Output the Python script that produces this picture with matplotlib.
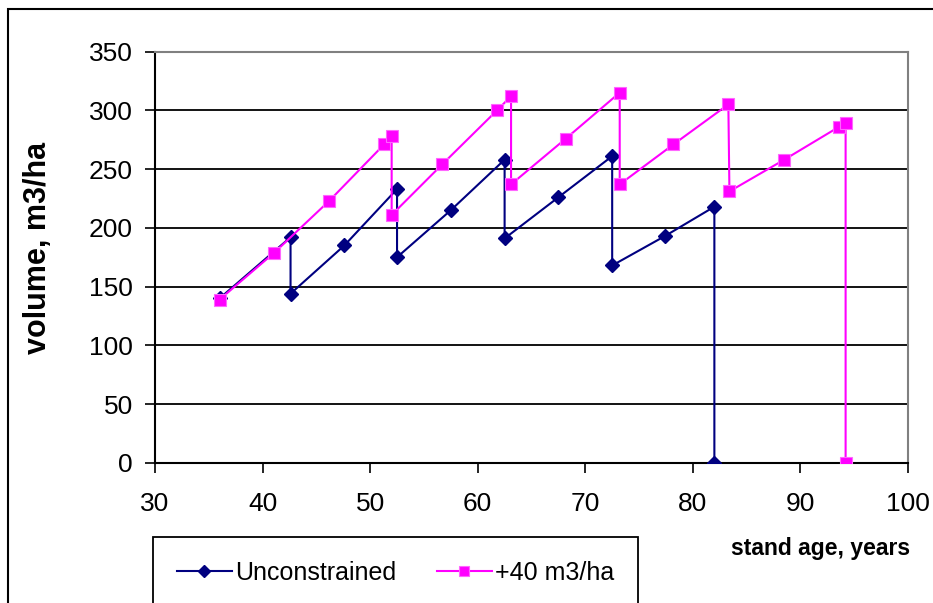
import numpy as np
import matplotlib
matplotlib.use("Agg")
import matplotlib.pyplot as plt
from matplotlib.patches import Rectangle

plt.rcParams['font.family'] = ['Liberation Sans', 'DejaVu Sans']

# stand volume over age, thinning drops shown as vertical steps
age_unc = [36, 42.6, 42.6, 47.6, 52.5, 52.5, 57.5, 62.5, 62.5, 67.5, 72.5, 72.5, 77.4, 82, 82]
vol_unc = [140, 192, 144, 185, 233, 175, 215, 258, 191, 226, 261, 168, 193, 218, 0]

age_40 = [36, 41.1, 46.2, 51.3, 52.0, 52.0, 56.7, 61.8, 63.1, 63.1, 68.2, 73.2, 73.2, 78.2,
          83.3, 83.4, 88.5, 93.6, 94.2, 94.2]
vol_40 = [139, 179, 223, 271, 278, 211, 254, 300, 312, 237, 276, 315, 237, 271,
          305, 231, 258, 286, 289, 0]

xticks = [30, 40, 50, 60, 70, 80, 90, 100]
yticks = [0, 50, 100, 150, 200, 250, 300, 350]

fig = plt.figure(figsize=(9.33, 6.03), dpi=100)
ax = fig.add_axes([155/933, 1 - 463/603, (908 - 155)/933, (463 - 51.5)/603])

l1, = ax.plot(age_unc, vol_unc, color='#000080', lw=1.5, marker='D', ms=7,
              mfc='#000080', mec='#000080', label='Unconstrained', zorder=3)
l2, = ax.plot(age_40, vol_40, color='#FF00FF', lw=1.5, marker='s', ms=8,
              mfc='#FF00FF', mec='#FF66FF', mew=0.8, label='+40 m3/ha', zorder=4)

ax.set_xlim(30, 100)
ax.set_ylim(0, 350)
ax.set_xticks(xticks)
ax.set_yticks(yticks)
ax.yaxis.grid(True, color='black', lw=1.3)
ax.set_axisbelow(True)
ax.tick_params(axis='both', labelsize=19, direction='out', length=7, width=1.2, color='black')
ax.tick_params(axis='y', pad=9)
ax.tick_params(axis='x', pad=14)
for s in ['left', 'bottom']:
    ax.spines[s].set_color('black')
    ax.spines[s].set_linewidth(1.5)
for s in ['top', 'right']:
    ax.spines[s].set_color('#808080')
    ax.spines[s].set_linewidth(1.5)

fig.text(38/933, 1 - 248/603, 'volume, m3/ha', rotation=90, fontsize=22,
         fontweight='bold', ha='center', va='center')
fig.text(821/933, 1 - 548/603, 'stand age, years', fontsize=16.5,
         fontweight='bold', ha='center', va='center')

# outer chart frame
fig.patches.append(Rectangle((8/933, -0.1), 1.2, 1.1 - 9/603, transform=fig.transFigure,
                             fill=False, edgecolor='black', lw=1.5))

leg = fig.legend(handles=[l1, l2], loc='upper left', bbox_to_anchor=(153/933, 1 - 537/603),
                 ncol=2, fontsize=18, frameon=True, fancybox=False, edgecolor='black',
                 handlelength=2.2, handletextpad=0.15, columnspacing=1.6,
                 borderpad=0.95, borderaxespad=0, markerscale=0.85)
leg.get_frame().set_linewidth(1.3)
leg.get_frame().set_alpha(None)

fig.savefig('out.png', dpi=100)
